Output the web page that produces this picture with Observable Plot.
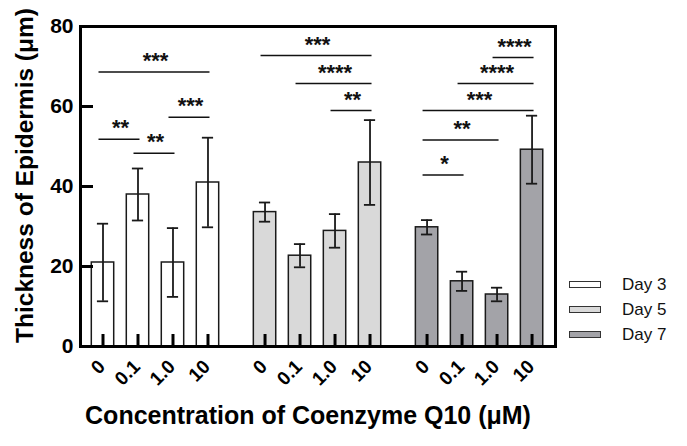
<!DOCTYPE html>
<html><head><meta charset="utf-8">
<script src="https://cdn.jsdelivr.net/npm/d3@7"></script>
<script src="https://cdn.jsdelivr.net/npm/@observablehq/plot@0.6"></script>
<style>
body{margin:0;background:#fff;}
#wrap{position:relative;width:687px;height:446px;font-family:"Liberation Sans",Arial,sans-serif;}
#legend{position:absolute;left:569px;top:272px;}
.row{display:flex;align-items:center;height:25px;font-size:17px;color:#111;}
.sw{width:30px;height:5px;border:1.5px solid #333;margin-right:21px;}
</style></head><body><div id="wrap"><div id="legend"></div></div>
<script>
const days = ["Day 3", "Day 5", "Day 7"];
const concentrations = ["0", "0.1", "1.0", "10"];
const dayColors = ["#ffffff", "#d9d9d9", "#a3a3a8"];
const meanDay3 = [21, 38, 21, 41];
const meanDay5 = [33.6, 22.7, 28.9, 46];
const meanDay7 = [29.8, 16.3, 13, 49.2];
const sdDay3 = [9.7, 6.5, 8.6, 11.2];
const sdDay5 = [2.4, 2.9, 4.2, 10.6];
const sdDay7 = [1.8, 2.4, 1.7, 8.5];
const yTicks = [0, 20, 40, 60, 80];
// significance brackets: [day index, from conc index, to conc index, y, label]
const brackets = [
  [0, 0, 3, 68.6, "***"], [0, 0, 1, 51.8, "**"], [0, 1, 2, 48.3, "**"], [0, 2, 3, 57.3, "***"],
  [1, 0, 3, 72.75, "***"], [1, 1, 3, 65.75, "****"], [1, 2, 3, 59, "**"],
  [2, 2, 3, 72.25, "****"], [2, 1, 3, 65.75, "****"], [2, 0, 3, 59, "***"], [2, 0, 2, 51.6, "**"], [2, 0, 1, 42.85, "*"]
];

const W = 687, H = 446, mL = 80, mR = 132, mT = 26, mB = 100;
const xDomain = [-0.643, 12.93], yDomain = [0, 80];
const groupStep = 4.63, barHalf = 0.32, capHalf = 0.16;
const frameW = W - mL - mR, frameH = H - mT - mB;
const xPerPx = (xDomain[1] - xDomain[0]) / frameW, yPerPx = (yDomain[1] - yDomain[0]) / frameH;
const tickLenX = 12 * yPerPx, tickLenY = 13 * xPerPx;
const means = [meanDay3, meanDay5, meanDay7];
const sds = [sdDay3, sdDay5, sdDay7];
const pos = (d, c) => d * groupStep + c;
const rows = [];
days.forEach((day, d) => concentrations.forEach((conc, c) => {
  const m = means[d][c], s = sds[d][c], p = pos(d, c);
  rows.push({day, conc, pos: p, mean: m, lo: m - s, hi: m + s, x1: p - barHalf, x2: p + barHalf, c1: p - capHalf, c2: p + capHalf, base: 0, tickTop: tickLenX});
}));
const yTickRows = yTicks.map(v => ({v, a: xDomain[0], b: xDomain[0] + tickLenY}));
const brk = brackets.map(([d, a, b, y, label]) => ({x1: pos(d, a), x2: pos(d, b), xm: (pos(d, a) + pos(d, b)) / 2, y, label}));
const tickPos = rows.map(r => r.pos);
const tickLabel = new Map(rows.map(r => [r.pos, r.conc]));

const chart = Plot.plot({
  width: W, height: H,
  marginLeft: mL, marginRight: mR, marginTop: mT, marginBottom: mB,
  style: {fontFamily: "Liberation Sans, Arial, sans-serif", fontWeight: "bold", color: "#000", background: "#fff"},
  x: {type: "linear", domain: xDomain, axis: null},
  y: {domain: yDomain, axis: null},
  color: {domain: days, range: dayColors},
  marks: [
    Plot.rect(rows, {x1: "x1", x2: "x2", y1: 0, y2: "mean", fill: "day", stroke: "#1a1a1a", strokeWidth: 1.5}),
    Plot.ruleX(rows, {x: "pos", y1: "lo", y2: "hi", stroke: "#1a1a1a", strokeWidth: 1.8}),
    Plot.ruleY(rows, {y: "hi", x1: "c1", x2: "c2", stroke: "#1a1a1a", strokeWidth: 1.8}),
    Plot.ruleY(rows, {y: "lo", x1: "c1", x2: "c2", stroke: "#1a1a1a", strokeWidth: 1.8}),
    Plot.ruleY(brk, {y: "y", x1: "x1", x2: "x2", insetLeft: -4, insetRight: -2, stroke: "#111", strokeWidth: 1.5}),
    Plot.text(brk, {x: "xm", y: "y", text: "label", dy: -11, fontSize: 22, fontWeight: "bold", fill: "#111"}),
    // inward ticks
    Plot.ruleX(rows, {x: "pos", y1: "base", y2: "tickTop", stroke: "#000", strokeWidth: 3}),
    Plot.ruleY(yTickRows, {y: "v", x1: "a", x2: "b", stroke: "#000", strokeWidth: 3}),
    Plot.axisX({ticks: tickPos, tickSize: 0, tickPadding: 17, tickRotate: -45, dx: -1, tickFormat: p => tickLabel.get(p), fontSize: 19, fontWeight: "bold", label: null}),
    Plot.axisY({ticks: yTicks, tickSize: 0, tickPadding: 7, fontSize: 21, fontWeight: "bold", label: null}),
    Plot.text(["Thickness of Epidermis (\u03bcm)"], {frameAnchor: "left", textAnchor: "middle", rotate: -90, dx: -55, dy: -11, fontSize: 24.5, fontWeight: "bold", fill: "#000"}),
    Plot.text(["Concentration of Coenzyme Q10 (\u03bcM)"], {frameAnchor: "bottom", textAnchor: "middle", dx: -10, dy: 77, fontSize: 25, fontWeight: "bold", fill: "#000"}),
    Plot.frame({stroke: "#000", strokeWidth: 3})
  ]
});
document.getElementById("wrap").prepend(chart);
const legend = document.getElementById("legend");
days.forEach((day, i) => {
  const row = document.createElement("div");
  row.className = "row";
  const sw = document.createElement("div");
  sw.className = "sw";
  sw.style.background = dayColors[i];
  const t = document.createElement("span");
  t.textContent = day;
  row.append(sw, t);
  legend.append(row);
});
</script></body></html>
